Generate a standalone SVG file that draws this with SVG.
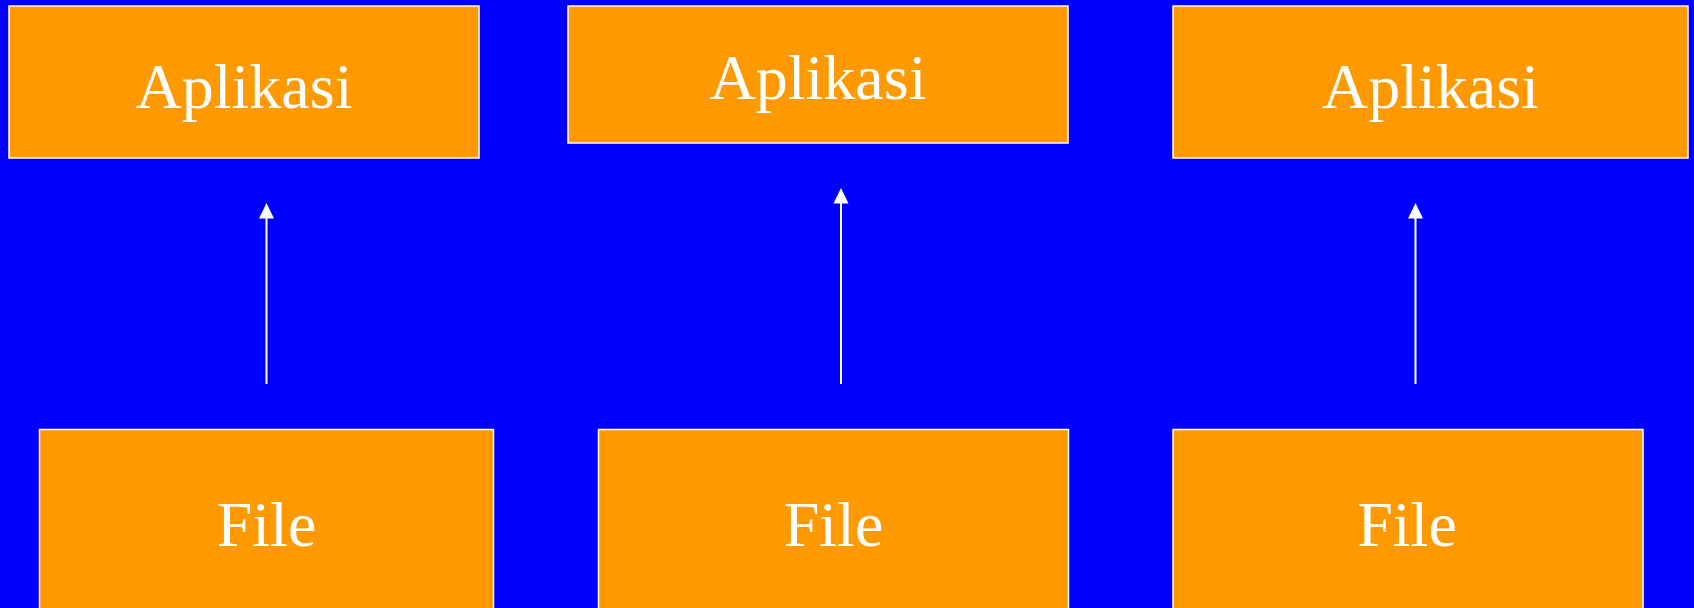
<svg xmlns="http://www.w3.org/2000/svg" width="1694" height="608" viewBox="0 0 1694 608">
  <style>
    .box { fill: #FF9900; stroke: #FFFFFF; stroke-width: 1.5; }
    .label { font-family: "Liberation Serif", "Times New Roman", serif; font-size: 64px; fill: #FFFFFF; text-anchor: middle; }
    .link { stroke: #FFFFFF; stroke-width: 2; fill: none; }
    .head { fill: #FFFFFF; }
  </style>
  <rect x="0" y="0" width="1694" height="608" fill="#0000FF"/>

  <!-- application layer -->
  <g id="app1">
    <rect class="box" x="9" y="6" width="470" height="152"/>
    <text class="label" x="244" y="108">Aplikasi</text>
  </g>
  <g id="app2">
    <rect class="box" x="568" y="6" width="500" height="137"/>
    <text class="label" x="818" y="99">Aplikasi</text>
  </g>
  <g id="app3">
    <rect class="box" x="1173" y="6" width="515" height="152"/>
    <text class="label" x="1430.5" y="108">Aplikasi</text>
  </g>

  <!-- file layer -->
  <g id="file1">
    <rect class="box" x="39.5" y="429.5" width="454" height="220"/>
    <text class="label" x="266.5" y="546">File</text>
  </g>
  <g id="file2">
    <rect class="box" x="598.5" y="429.5" width="470" height="220"/>
    <text class="label" x="833.5" y="546">File</text>
  </g>
  <g id="file3">
    <rect class="box" x="1173" y="429.5" width="470" height="220"/>
    <text class="label" x="1407" y="546">File</text>
  </g>

  <!-- connectors: file up to application -->
  <g id="connectors">
    <line class="link" x1="266.5" y1="384" x2="266.5" y2="217"/>
    <polygon class="head" points="266.5,203 274,218.5 259,218.5"/>
    <line class="link" x1="841" y1="384" x2="841" y2="202"/>
    <polygon class="head" points="841,188 848.5,203.5 833.5,203.5"/>
    <line class="link" x1="1415.5" y1="384" x2="1415.5" y2="217"/>
    <polygon class="head" points="1415.5,203 1423,218.5 1408,218.5"/>
  </g>
</svg>
